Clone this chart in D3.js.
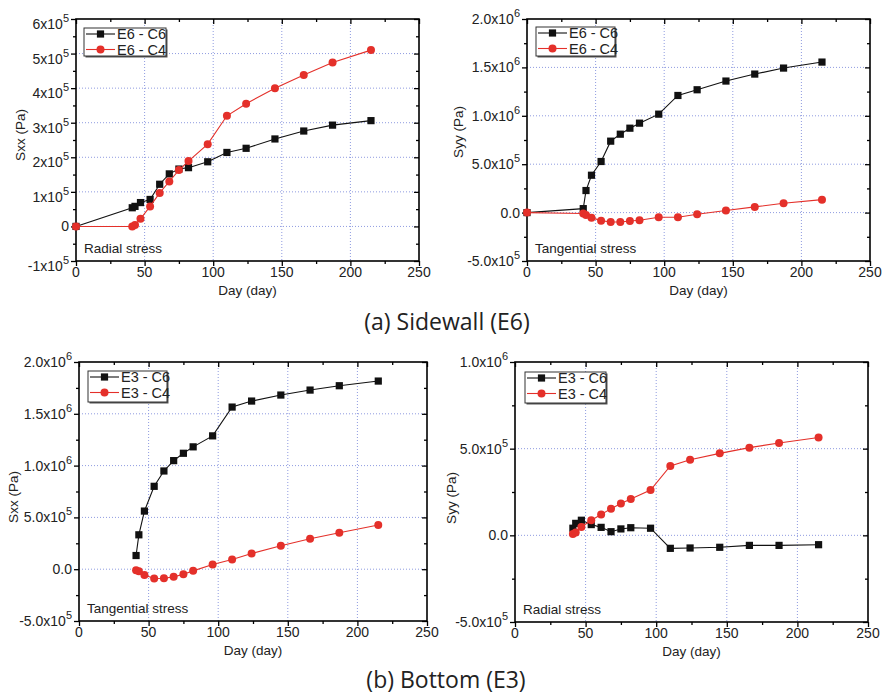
<!DOCTYPE html>
<html><head><meta charset="utf-8">
<script src="https://cdn.jsdelivr.net/npm/d3@7"></script>
<style>
body{margin:0;background:#fff;}
svg{display:block;font-family:"Liberation Sans",Arial,sans-serif;}
</style></head>
<body><svg id="c" width="889" height="696"></svg>
<script>
// ---------- DATA ----------
const daysE6 = [0, 41, 43, 47, 54, 61, 68, 75, 82, 96, 110, 124, 145, 166, 187, 215];
const daysE3 = [41, 43, 47, 54, 61, 68, 75, 82, 96, 110, 124, 145, 166, 187, 215];

// (a) Sidewall E6 - Sxx (radial)
const sxxE6C6 = [0, 0.54e5, 0.58e5, 0.69e5, 0.78e5, 1.22e5, 1.52e5, 1.66e5, 1.70e5, 1.87e5, 2.14e5, 2.26e5, 2.53e5, 2.76e5, 2.93e5, 3.06e5];
const sxxE6C4 = [0, 0, 0.04e5, 0.22e5, 0.58e5, 0.97e5, 1.30e5, 1.63e5, 1.89e5, 2.38e5, 3.20e5, 3.55e5, 4.00e5, 4.38e5, 4.74e5, 5.10e5];
// (a) Sidewall E6 - Syy (tangential)
const syyE6C6 = [0, 0.41e5, 2.28e5, 3.86e5, 5.28e5, 7.38e5, 8.10e5, 8.72e5, 9.24e5, 1.017e6, 1.21e6, 1.269e6, 1.359e6, 1.431e6, 1.493e6, 1.555e6];
const syyE6C4 = [0, -0.10e5, -0.24e5, -0.52e5, -0.83e5, -0.97e5, -0.97e5, -0.86e5, -0.79e5, -0.48e5, -0.48e5, -0.17e5, 0.21e5, 0.59e5, 0.97e5, 1.34e5];
// (b) Bottom E3 - Sxx (tangential)
const sxxE3C6 = [1.32e5, 3.32e5, 5.61e5, 8.0e5, 9.48e5, 1.048e6, 1.119e6, 1.181e6, 1.287e6, 1.565e6, 1.623e6, 1.681e6, 1.729e6, 1.771e6, 1.816e6];
const sxxE3C4 = [-0.10e5, -0.19e5, -0.55e5, -0.90e5, -0.87e5, -0.74e5, -0.48e5, -0.16e5, 0.45e5, 0.94e5, 1.52e5, 2.26e5, 2.94e5, 3.52e5, 4.26e5];
// (b) Bottom E3 - Syy (radial)
const syyE3C6 = [0.41e5, 0.69e5, 0.87e5, 0.62e5, 0.46e5, 0.21e5, 0.37e5, 0.44e5, 0.41e5, -0.75e5, -0.73e5, -0.69e5, -0.58e5, -0.58e5, -0.54e5];
const syyE3C4 = [0.08e5, 0.17e5, 0.48e5, 0.87e5, 1.20e5, 1.54e5, 1.83e5, 2.10e5, 2.61e5, 4.00e5, 4.36e5, 4.73e5, 5.06e5, 5.33e5, 5.64e5];

// tick values & labels
const xTicks = [0, 50, 100, 150, 200, 250];
const yTicksA1 = [-1e5, 0, 1e5, 2e5, 3e5, 4e5, 5e5, 6e5];
const yLabelsA1 = [["-1x10","5"], ["0",""], ["1x10","5"], ["2x10","5"], ["3x10","5"], ["4x10","5"], ["5x10","5"], ["6x10","5"]];
const yTicksA2 = [-5e5, 0, 5e5, 1e6, 1.5e6, 2e6];
const yLabelsA2 = [["-5.0x10","5"], ["0.0",""], ["5.0x10","5"], ["1.0x10","6"], ["1.5x10","6"], ["2.0x10","6"]];
const yTicksB2 = [-5e5, 0, 5e5, 1e6];
const yLabelsB2 = [["-5.0x10","5"], ["0.0",""], ["5.0x10","5"], ["1.0x10","6"]];

const C_BLACK = "#111", C_RED = "#e4302a";

const svg = d3.select("#c");

function panel(cfg) {
  const g = svg.append("g");
  const x = d3.scaleLinear().domain([0, 250]).range([cfg.l, cfg.r]);
  const y = d3.scaleLinear().domain(cfg.ydom).range([cfg.b, cfg.t]);

  // grid
  const gx = xTicks.filter(v => v > 0 && v < 250);
  g.selectAll(".gx").data(gx).join("line")
    .attr("x1", d => x(d)).attr("x2", d => x(d)).attr("y1", cfg.t).attr("y2", cfg.b)
    .attr("stroke", "#8f9be0").attr("stroke-width", 1).attr("stroke-dasharray", "1,2");
  const gy = cfg.yticks.filter(v => v > cfg.ydom[0] && v < cfg.ydom[1]);
  g.selectAll(".gy").data(gy).join("line")
    .attr("x1", cfg.l).attr("x2", cfg.r).attr("y1", d => y(d)).attr("y2", d => y(d))
    .attr("stroke", "#8f9be0").attr("stroke-width", 1).attr("stroke-dasharray", "1,2");

  // axes via d3 axis (ticks)
  const minorX = d3.range(25, 250, 50);
  const step = cfg.yticks[1] - cfg.yticks[0];
  const minorY = d3.range(cfg.ydom[0] + step / 2, cfg.ydom[1], step);
  const tickStyle = sel => { sel.select(".domain").remove(); sel.selectAll("text").remove(); sel.selectAll("line").attr("stroke", "#000").attr("stroke-width", 1.3); };

  g.append("g").attr("transform", `translate(0,${cfg.b})`).call(d3.axisBottom(x).tickValues(xTicks).tickSize(5)).call(tickStyle);
  g.append("g").attr("transform", `translate(0,${cfg.b})`).call(d3.axisBottom(x).tickValues(minorX).tickSize(3)).call(tickStyle);
  g.append("g").attr("transform", `translate(0,${cfg.t})`).call(d3.axisBottom(x).tickValues(xTicks).tickSize(5)).call(tickStyle);
  g.append("g").attr("transform", `translate(0,${cfg.t})`).call(d3.axisBottom(x).tickValues(minorX).tickSize(3)).call(tickStyle);
  g.append("g").attr("transform", `translate(${cfg.l},0)`).call(d3.axisLeft(y).tickValues(cfg.yticks).tickSize(5)).call(tickStyle);
  g.append("g").attr("transform", `translate(${cfg.l},0)`).call(d3.axisLeft(y).tickValues(minorY).tickSize(3)).call(tickStyle);
  g.append("g").attr("transform", `translate(${cfg.r},0)`).call(d3.axisLeft(y).tickValues(cfg.yticks).tickSize(5)).call(tickStyle);
  g.append("g").attr("transform", `translate(${cfg.r},0)`).call(d3.axisLeft(y).tickValues(minorY).tickSize(3)).call(tickStyle);

  // frame
  g.append("rect").attr("x", cfg.l).attr("y", cfg.t).attr("width", cfg.r - cfg.l).attr("height", cfg.b - cfg.t)
    .attr("fill", "none").attr("stroke", "#000").attr("stroke-width", 1.6);

  // x tick labels
  g.selectAll(".xl").data(xTicks).join("text")
    .attr("x", d => x(d)).attr("y", cfg.b + 16).attr("text-anchor", "middle")
    .attr("font-size", 14).attr("fill", "#222").text(d => d);

  // y tick labels
  cfg.yticks.forEach((v, i) => {
    const [m, e] = cfg.ylabels[i];
    const t = g.append("text").attr("x", cfg.l - 7).attr("y", y(v) + 5 + (e ? cfg.expOff : 0))
      .attr("text-anchor", "end").attr("font-size", 14).attr("fill", "#222");
    t.append("tspan").text(m);
    if (e) t.append("tspan").attr("dy", -7).attr("font-size", 11).text(e);
  });

  // axis titles
  g.append("text").attr("x", (cfg.l + cfg.r) / 2).attr("y", cfg.b + 34).attr("text-anchor", "middle")
    .attr("font-size", 13.5).attr("fill", "#222").text("Day (day)");
  g.append("text").attr("transform", `translate(${cfg.ytx},${cfg.yty}) rotate(-90)`).attr("text-anchor", "middle")
    .attr("font-size", 13.5).attr("fill", "#222").text(cfg.ytitle);

  // annotation
  g.append("text").attr("x", cfg.l + 8).attr("y", cfg.b - 8).attr("font-size", 13.5).attr("fill", "#222").text(cfg.note);

  // series
  const line = d3.line().x(d => x(d[0])).y(d => y(d[1]));
  cfg.series.forEach(s => {
    const pts = d3.zip(cfg.days, s.vals);
    g.append("path").datum(pts).attr("d", line).attr("fill", "none").attr("stroke", s.color).attr("stroke-width", 1.1);
    if (s.shape === "sq") {
      g.selectAll(null).data(pts).join("rect")
        .attr("x", d => x(d[0]) - 3.6).attr("y", d => y(d[1]) - 3.6).attr("width", 7.2).attr("height", 7.2).attr("fill", s.color);
    } else {
      g.selectAll(null).data(pts).join("circle")
        .attr("cx", d => x(d[0])).attr("cy", d => y(d[1])).attr("r", 4).attr("fill", s.color);
    }
  });

  // legend
  const L = cfg.leg;
  g.append("rect").attr("x", L.x + 1.5).attr("y", L.y + 1.5).attr("width", L.w).attr("height", L.h).attr("fill", "#555");
  g.append("rect").attr("x", L.x).attr("y", L.y).attr("width", L.w).attr("height", L.h).attr("fill", "#fff").attr("stroke", "#333").attr("stroke-width", 1);
  cfg.series.forEach((s, i) => {
    const ry = L.y + 6 + i * 15.5;
    g.append("line").attr("x1", L.x + 2).attr("x2", L.x + 31).attr("y1", ry).attr("y2", ry).attr("stroke", s.color).attr("stroke-width", 1.1);
    if (s.shape === "sq") g.append("rect").attr("x", L.x + 16.5 - 3.6).attr("y", ry - 3.6).attr("width", 7.2).attr("height", 7.2).attr("fill", s.color);
    else g.append("circle").attr("cx", L.x + 16.5).attr("cy", ry).attr("r", 4).attr("fill", s.color);
    g.append("text").attr("x", L.x + 33).attr("y", ry + 5).attr("font-size", 14.5).attr("fill", "#222").text(s.name);
  });
}

panel({ l: 76, r: 419, t: 19, b: 261, ydom: [-1e5, 6e5], yticks: yTicksA1, ylabels: yLabelsA1, expOff: 5,
  ytitle: "Sxx (Pa)", ytx: 25, yty: 135, note: "Radial stress", days: daysE6,
  leg: { x: 84, y: 28, w: 82, h: 28 },
  series: [{ name: "E6 - C6", vals: sxxE6C6, color: C_BLACK, shape: "sq" }, { name: "E6 - C4", vals: sxxE6C4, color: C_RED, shape: "ci" }] });

panel({ l: 527, r: 870, t: 19, b: 261, ydom: [-5e5, 2e6], yticks: yTicksA2, ylabels: yLabelsA2, expOff: 0,
  ytitle: "Syy (Pa)", ytx: 463, yty: 132, note: "Tangential stress", days: daysE6,
  leg: { x: 536, y: 27, w: 79, h: 29 },
  series: [{ name: "E6 - C6", vals: syyE6C6, color: C_BLACK, shape: "sq" }, { name: "E6 - C4", vals: syyE6C4, color: C_RED, shape: "ci" }] });

panel({ l: 79, r: 427, t: 362, b: 621, ydom: [-5e5, 2e6], yticks: yTicksA2, ylabels: yLabelsA2, expOff: 0,
  ytitle: "Sxx (Pa)", ytx: 18, yty: 497, note: "Tangential stress", days: daysE3,
  leg: { x: 88, y: 371, w: 79, h: 31 },
  series: [{ name: "E3 - C6", vals: sxxE3C6, color: C_BLACK, shape: "sq" }, { name: "E3 - C4", vals: sxxE3C4, color: C_RED, shape: "ci" }] });

panel({ l: 515, r: 868, t: 362, b: 622, ydom: [-5e5, 1e6], yticks: yTicksB2, ylabels: yLabelsB2, expOff: 0,
  ytitle: "Syy (Pa)", ytx: 456, yty: 498, note: "Radial stress", days: daysE3,
  leg: { x: 525, y: 372, w: 81, h: 31 },
  series: [{ name: "E3 - C6", vals: syyE3C6, color: C_BLACK, shape: "sq" }, { name: "E3 - C4", vals: syyE3C4, color: C_RED, shape: "ci" }] });

// captions
svg.append("text").attr("x", 447).attr("y", 330).attr("text-anchor", "middle")
  .attr("font-family", "'Open Sans','Noto Sans',sans-serif").attr("font-size", 23).attr("fill", "#222").text("(a) Sidewall (E6)");
svg.append("text").attr("x", 446).attr("y", 688).attr("text-anchor", "middle")
  .attr("font-family", "'Open Sans','Noto Sans',sans-serif").attr("font-size", 23).attr("fill", "#222").text("(b) Bottom (E3)");
</script></body></html>
